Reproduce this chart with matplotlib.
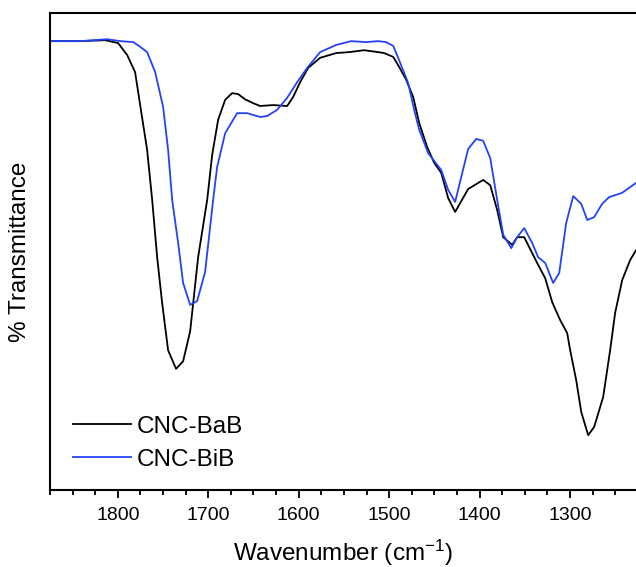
import numpy as np
import matplotlib
matplotlib.use("Agg")
import matplotlib.pyplot as plt
from matplotlib.ticker import MultipleLocator

# ==================================================
# Data
# ==================================================
wn_bab = [1874.9, 1841.7, 1814.0, 1799.7, 1789.7, 1780.9, 1775.3, 1767.6, 1762.0,
          1756.5, 1751.0, 1744.4, 1735.6, 1727.8, 1720.0, 1711.2, 1701.2, 1695.7,
          1689.1, 1681.3, 1673.6, 1667.0, 1659.2, 1650.4, 1642.6, 1628.3, 1612.8,
          1606.1, 1598.4, 1589.5, 1576.3, 1558.6, 1544.2, 1527.6, 1512.1, 1505.5,
          1495.5, 1488.9, 1481.1, 1473.4, 1466.7, 1457.9, 1450.2, 1442.4, 1434.7,
          1427.0, 1412.6, 1396.0, 1388.2, 1380.5, 1373.8, 1363.9, 1358.4, 1350.6,
          1336.3, 1327.4, 1319.7, 1310.8, 1303.1, 1299.8, 1293.2, 1287.6, 1279.9,
          1273.3, 1263.3, 1255.6, 1250.1, 1242.3, 1233.5, 1226.8]
t_bab = [94.1, 94.1, 94.3, 93.7, 91.2, 87.6, 80.7, 71.3, 60.8,
         48.8, 39.2, 29.3, 25.4, 27.0, 33.3, 48.8, 60.8, 70.2,
         77.6, 81.8, 83.2, 83.0, 81.9, 81.1, 80.5, 80.7, 80.5,
         82.4, 85.5, 88.5, 90.6, 91.6, 91.8, 92.2, 91.8, 91.6,
         90.8, 88.7, 86.0, 82.4, 76.9, 71.9, 68.6, 66.5, 61.2,
         58.3, 63.1, 65.0, 63.9, 58.7, 53.0, 51.4, 53.0, 53.0,
         47.6, 44.4, 39.4, 35.6, 32.9, 29.3, 23.1, 16.4, 11.5,
         13.2, 19.5, 29.3, 37.1, 44.0, 48.2, 50.3]

wn_bib = [1874.9, 1841.7, 1811.8, 1797.2, 1782.9, 1775.2, 1767.6, 1758.7, 1749.9,
          1744.4, 1739.9, 1733.3, 1727.8, 1720.0, 1712.3, 1703.5, 1694.6, 1690.2,
          1681.3, 1668.1, 1657.0, 1642.6, 1634.9, 1623.8, 1612.8, 1601.7, 1590.6,
          1576.3, 1558.6, 1542.0, 1525.4, 1512.1, 1503.3, 1495.5, 1488.9, 1478.9,
          1472.3, 1466.7, 1456.8, 1442.4, 1434.7, 1427.0, 1412.6, 1403.7, 1396.0,
          1388.2, 1380.5, 1373.8, 1364.9, 1358.4, 1350.6, 1341.8, 1335.2, 1327.4,
          1318.6, 1311.9, 1304.2, 1296.4, 1287.6, 1280.9, 1273.3, 1264.4, 1256.7,
          1242.3, 1226.8]
t_bib = [94.1, 94.1, 94.5, 94.1, 93.9, 92.9, 91.8, 87.6, 80.3,
         71.3, 60.8, 51.8, 43.4, 38.8, 39.6, 45.7, 60.8, 67.7,
         74.8, 79.0, 79.0, 78.2, 78.4, 79.7, 82.2, 85.5, 88.5,
         91.8, 93.3, 94.1, 93.9, 94.1, 93.9, 93.1, 90.1, 85.3,
         79.7, 75.5, 70.6, 67.1, 62.9, 60.4, 71.5, 73.6, 73.2,
         69.6, 60.8, 53.5, 50.7, 53.0, 54.9, 51.8, 48.8, 47.6,
         43.4, 45.5, 56.0, 61.6, 60.0, 56.6, 57.2, 60.0, 61.4,
         62.3, 64.4]

# ==================================================
# Style
# ==================================================
plt.rcParams["font.family"] = ["Liberation Sans", "DejaVu Sans"]
plt.rcParams["mathtext.fontset"] = "custom"
plt.rcParams["mathtext.rm"] = "Liberation Sans"
plt.rcParams["mathtext.it"] = "Liberation Sans"

fig = plt.figure(figsize=(6.36, 5.67), dpi=100)
ax = fig.add_axes([50 / 636, 1 - 490 / 567, 1 - 50 / 636, (490 - 13) / 567])

ax.plot(wn_bab, t_bab, color="black", lw=1.3, label="CNC-BaB")
ax.plot(wn_bib, t_bib, color="#2443f5", lw=1.3, label="CNC-BiB")

ax.set_xlim(1875, 1227)
ax.set_ylim(0, 100)

ax.xaxis.set_major_locator(MultipleLocator(100))
ax.xaxis.set_minor_locator(MultipleLocator(25))
ax.tick_params(axis="x", which="major", direction="out", length=6, width=1.3,
               labelsize=14, pad=6)
ax.tick_params(axis="x", which="minor", direction="out", length=3.5, width=1.3)
ax.set_yticks([])

for side in ["left", "top", "bottom"]:
    ax.spines[side].set_linewidth(1.5)
ax.spines["right"].set_visible(False)

ax.set_xlabel("Wavenumber (cm$^{-1}$)", fontsize=17.5, labelpad=10)
ax.set_ylabel("% Transmittance", fontsize=17.5, labelpad=14)

ax.legend(loc="lower left", bbox_to_anchor=(0.022, 0.02), frameon=False,
          fontsize=17.5, handlelength=2.4, handletextpad=0.25,
          labelspacing=0.45, borderaxespad=0)

fig.savefig("out.png", dpi=100)
